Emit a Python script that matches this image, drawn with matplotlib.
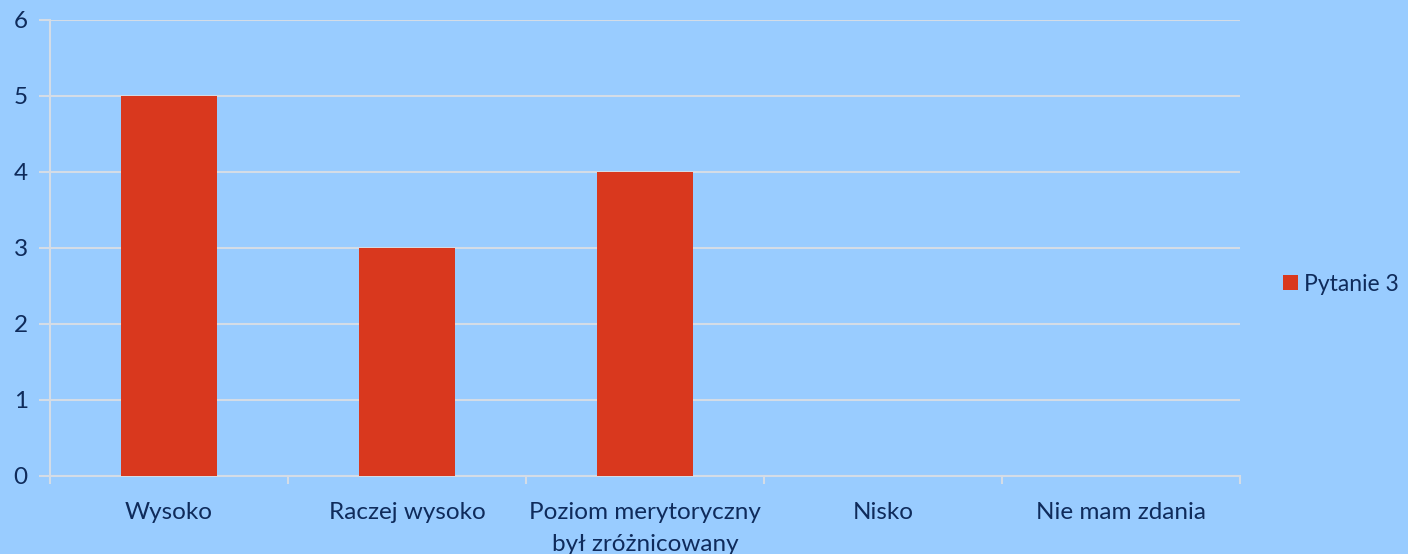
import numpy as np
import matplotlib
matplotlib.use('Agg')
import matplotlib.pyplot as plt

categories = ['Wysoko', 'Raczej wysoko', 'Poziom merytoryczny\nbył zróżnicowany', 'Nisko', 'Nie mam zdania']
values     = [5, 3, 4, 0, 0]
series     = 'Pytanie 3'

bg_col   = '#99CCFF'
bar_col  = '#D9381E'
txt_col  = '#0F2B5B'
grid_col = '#D4DCE6'

plt.rcParams['font.family'] = ['Lato', 'DejaVu Sans']
fs = 17.5

fig = plt.figure(figsize=(14.08, 5.54), dpi=100)
fig.patch.set_facecolor(bg_col)
ax = fig.add_axes([50/1408, 78/554, 1190/1408, 456/554])
ax.set_facecolor(bg_col)

x = np.arange(len(categories))
ax.bar(x, values, width=0.4, color=bar_col, label=series, zorder=3)

ax.set_xlim(-0.5, len(categories) - 0.5)
ax.set_ylim(0, 6)
ax.set_yticks(range(0, 7))
ax.yaxis.grid(True, color=grid_col, linewidth=1.5, zorder=0)

# category labels centred, tick marks at boundaries
ax.set_xticks(x)
ax.set_xticklabels(categories, fontsize=fs, color=txt_col, linespacing=1.6)
ax.tick_params(axis='x', length=0, pad=19)
ax.set_xticks(np.arange(-0.5, len(categories)), minor=True)
ax.tick_params(axis='x', which='minor', length=6, width=1.5, color=grid_col, direction='out')
ax.tick_params(axis='y', length=8, width=1.5, color=grid_col, labelsize=fs,
               labelcolor=txt_col, pad=8)

for s in ['top', 'right']:
    ax.spines[s].set_visible(False)
ax.spines['left'].set_color(grid_col)
ax.spines['left'].set_linewidth(1.5)
ax.spines['bottom'].set_color(grid_col)
ax.spines['bottom'].set_linewidth(1.5)

leg = fig.legend(loc='center left', bbox_to_anchor=(1262/1408, 0.487), frameon=False,
                 fontsize=16.5, handlelength=0.65, handleheight=0.65, handletextpad=0.3)
for t in leg.get_texts():
    t.set_color(txt_col)

plt.savefig('out.png', dpi=100, facecolor=bg_col)
